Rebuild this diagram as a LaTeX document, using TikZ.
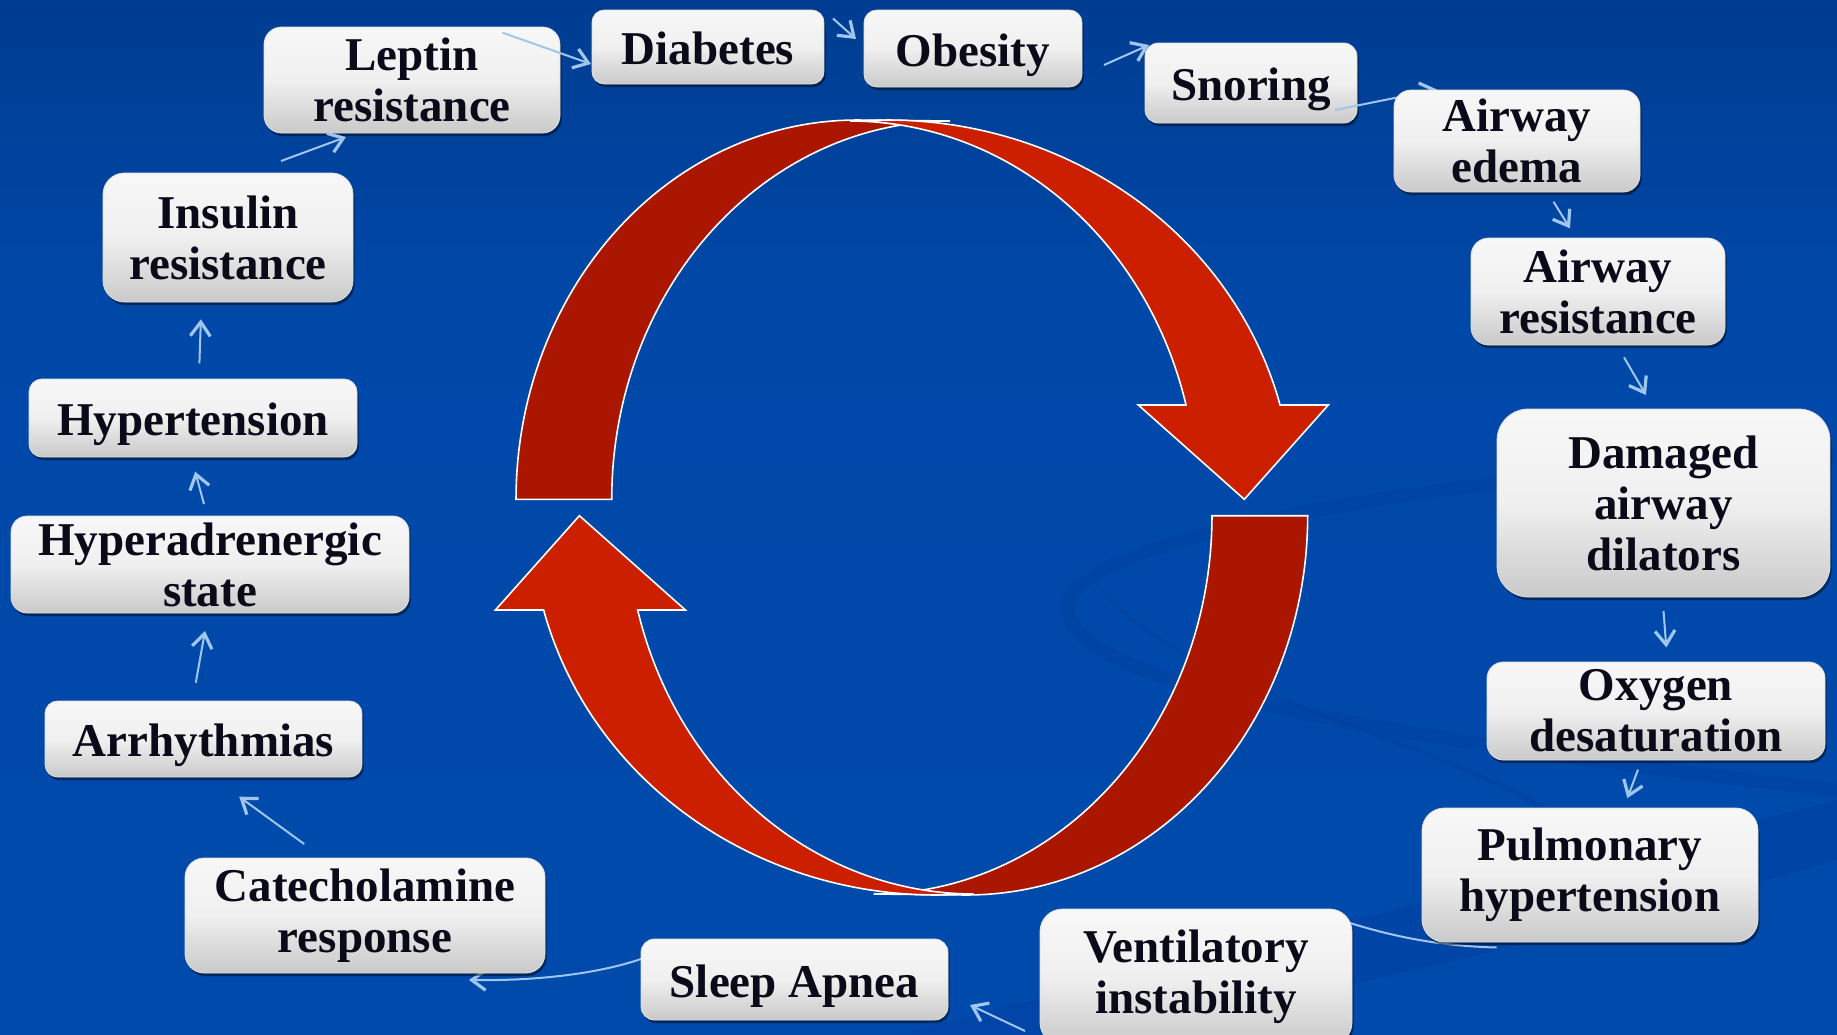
\documentclass[tikz,border=0pt]{standalone}
\usepackage{fontspec}
\setmainfont{Liberation Serif}
\usetikzlibrary{shadows,arrows.meta}
\definecolor{darkred}{RGB}{170,22,0}
\definecolor{brightred}{RGB}{204,31,0}
\definecolor{connc}{RGB}{160,198,236}
\definecolor{bgtop}{RGB}{0,42,108}
\definecolor{bgmid}{RGB}{0,72,168}
\definecolor{bgbot}{RGB}{0,76,176}
\definecolor{swoosh}{RGB}{0,58,150}
\definecolor{txt}{RGB}{10,10,25}
\pgfdeclareverticalshading{bgshade}{100bp}{color(0bp)=(bgbot); color(60bp)=(bgmid); color(100bp)=(bgtop)}
\pgfdeclarelayer{bg}
\pgfdeclarelayer{lowbox}
\pgfdeclarelayer{conn}
\pgfsetlayers{bg,lowbox,conn,main}
\tikzset{
  bx/.style n args={3}{draw=black!12, line width=0.4pt, rounded corners=#3pt,
    minimum width=#1pt, minimum height=#2pt,
    top color=white!97!black, bottom color=black!21, middle color=white!94!black,
    drop shadow={shadow xshift=0.8pt, shadow yshift=-1.6pt, opacity=0.45, fill=black},
    align=center, inner sep=0pt, font=\fontsize{23.5}{25.5}\selectfont\bfseries, text=txt},
  oneline/.style={text height=17.5pt, text depth=0pt},
  connline/.style={draw=connc, line width=1pt},
  conn/.style={connline, -{Straight Barb[length=7pt,width=10pt,line width=1.6pt]}},
  redpart/.style={draw=white, line width=0.8pt}
}
\newcommand{\redhalf}{%
  \path[redpart, fill=darkred]
    plot[domain=180:270, samples=60] ({856.7+340.7*cos(\x)},{499.3+379.3*sin(\x)})
    -- plot[domain=270:180, samples=60] ({950+338.3*cos(\x)},{499.3+378.3*sin(\x)}) -- cycle;
  \path[redpart, fill=brightred]
    plot[domain=270:345.6, samples=60] ({887.8+405*cos(\x)},{499.3+379.3*sin(\x)})
    -- (1328.3,405) -- (1244.3,499.3) -- (1138.3,405)
    -- plot[domain=345.56:270, samples=60] ({850+347*cos(\x)},{499.3+378.3*sin(\x)}) -- cycle;
}
\begin{document}
\begin{tikzpicture}[x=0.5pt, y=-0.5pt]
\useasboundingbox (0,0) rectangle (1837,1034);
\begin{pgfonlayer}{bg}
  \shade[shading=bgshade] (0,0) rectangle (1837,1034);
  \begin{scope}[opacity=0.25]
    \draw[swoosh, line width=7pt] (1837,455) .. controls (1500,470) and (1080,530) .. (1068,605) .. controls (1060,680) and (1350,735) .. (1837,790);
    \draw[swoosh, line width=2pt] (1100,590) .. controls (1200,700) and (1450,740) .. (1560,820);
    \fill[swoosh] (900,1034) .. controls (1300,930) and (1600,860) .. (1837,800) -- (1837,860) .. controls (1600,930) and (1300,1000) .. (1100,1034) -- cycle;
  \end{scope}
  \redhalf
  \begin{scope}[rotate around={180:(911.85,507.5)}]
    \redhalf
  \end{scope}
\end{pgfonlayer}

\begin{pgfonlayer}{lowbox}
  \node[bx={148}{53}{8.8}] (lep) at (412,80) {Leptin\\resistance};
  \node[bx={106}{40}{6.7}, oneline] (sno) at (1251,83) {Snoring};
\end{pgfonlayer}

\node[bx={116}{37}{6.2}, oneline] (dia) at (708,47) {Diabetes};
\node[bx={109}{38.5}{6.4}, oneline] (obe) at (973,48.5) {Obesity};
\node[bx={123}{51}{8.5}] (ede) at (1517,141) {Airway\\edema};
\node[bx={127}{53.5}{8.9}] (res) at (1598,291.5) {Airway\\resistance};
\node[bx={166.5}{94}{15.7}] (dam) at (1663.5,503) {Damaged\\airway\\dilators};
\node[bx={169}{49}{8.2}] (oxy) at (1656,711) {Oxygen\\desaturation};
\node[bx={168}{67}{11.2}] (pul) at (1590,875) {Pulmonary\\hypertension};
\node[bx={156}{68}{11.3}] (ven) at (1196,977) {Ventilatory\\instability};
\node[bx={153.5}{40.5}{6.75}, oneline] (sle) at (794.5,979.5) {Sleep Apnea};
\node[bx={180}{57.5}{9.6}] (cat) at (365,915.5) {Catecholamine\\response};
\node[bx={158.5}{38}{6.3}, oneline] (arr) at (203.5,739) {Arrhythmias};
\node[bx={199}{48.5}{8.1}] (hyp) at (210,564.5) {Hyperadrenergic\\state};
\node[bx={164}{39}{6.5}, oneline] (hte) at (193,418) {Hypertension};
\node[bx={125}{64.5}{10.75}] (ins) at (228,237.5) {Insulin\\resistance};

\begin{pgfonlayer}{conn}
  \draw[conn] ([shift={(53,-76.5)}]ins.center) -- ([shift={(-66,57)}]lep.center);
  \draw[conn] ([shift={(90.6,-47.3)}]lep.center) -- ([shift={(-117,17)}]dia.center);
  \draw[conn] ([shift={(125,-28.5)}]dia.center) -- ([shift={(-117,-9.5)}]obe.center);
  \draw[conn] ([shift={(131,16.5)}]obe.center) -- ([shift={(-102,-38)}]sno.center);
  \draw[conn] ([shift={(84,27)}]sno.center) -- ([shift={(-80,-51.5)}]ede.center);
  \draw[conn] ([shift={(36.5,60.7)}]ede.center) -- ([shift={(-28,-63.2)}]res.center);
  \draw[conn] ([shift={(26,65.8)}]res.center) -- ([shift={(-17.5,-108)}]dam.center);
  \draw[conn] ([shift={(0,108)}]dam.center) -- ([shift={(10.3,-63.6)}]oxy.center);
  \draw[conn] ([shift={(-18,58.6)}]oxy.center) -- ([shift={(37.3,-76.8)}]pul.center);
  \draw[connline] ([shift={(-93.5,72.5)}]pul.center) .. controls (1440,946) and (1395,937) .. ([shift={(154,-54)}]ven.center);
  \draw[conn] ([shift={(-171,54)}]ven.center) -- ([shift={(175.5,25.5)}]sle.center);
  \draw[conn] ([shift={(-153.5,-20.5)}]sle.center) .. controls (600,973) and (540,981) .. ([shift={(104,64.5)}]cat.center);
  \draw[conn] ([shift={(-60.8,-71.5)}]cat.center) -- ([shift={(35.7,57.7)}]arr.center);
  \draw[conn] ([shift={(-7.7,-56.3)}]arr.center) -- ([shift={(-5,66.5)}]hyp.center);
  \draw[conn] ([shift={(-6,-60.5)}]hyp.center) -- ([shift={(2.2,53.7)}]hte.center);
  \draw[conn] ([shift={(6.4,-54.7)}]hte.center) -- ([shift={(-27.1,81.8)}]ins.center);
\end{pgfonlayer}
\end{tikzpicture}
\end{document}
